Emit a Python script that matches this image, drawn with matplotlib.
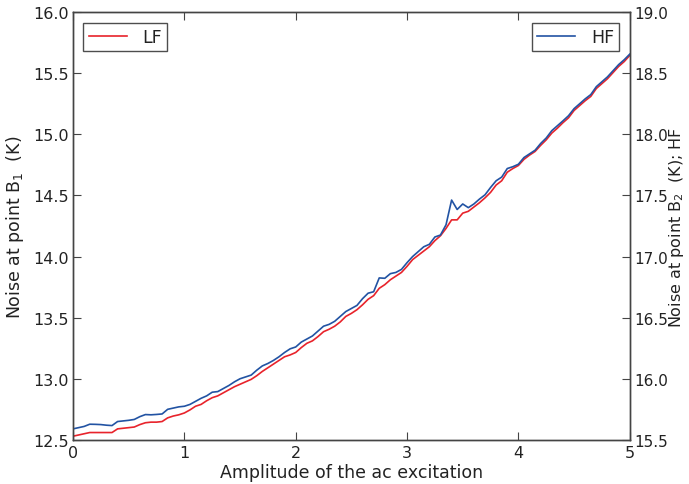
import matplotlib
matplotlib.use("Agg")
import matplotlib.pyplot as plt

plt.rcParams['font.family'] = ['DejaVu Sans']
plt.rcParams['mathtext.default'] = 'regular'

# amplitude of the ac excitation
amplitude = [i * 0.05 for i in range(101)]

# noise at point B1, low frequency (left axis)
lf_noise = [
    12.53, 12.54, 12.55, 12.56, 12.56, 12.56, 12.56, 12.56, 12.59, 12.595,
    12.60, 12.605, 12.625, 12.64, 12.645, 12.645, 12.65, 12.68, 12.695, 12.705,
    12.72, 12.745, 12.775, 12.79, 12.82, 12.845, 12.86, 12.885, 12.91, 12.935,
    12.955, 12.975, 12.995, 13.025, 13.06, 13.09, 13.12, 13.15, 13.18, 13.195,
    13.215, 13.255, 13.29, 13.31, 13.345, 13.385, 13.405, 13.43, 13.465, 13.51,
    13.535, 13.565, 13.605, 13.65, 13.68, 13.74, 13.77, 13.81, 13.84, 13.87,
    13.92, 13.975, 14.01, 14.045, 14.08, 14.13, 14.17, 14.23, 14.30, 14.30,
    14.355, 14.37, 14.405, 14.44, 14.48, 14.525, 14.585, 14.62, 14.69, 14.72,
    14.745, 14.795, 14.83, 14.86, 14.91, 14.955, 15.01, 15.05, 15.095, 15.135,
    15.195, 15.235, 15.275, 15.31, 15.375, 15.415, 15.455, 15.505, 15.555, 15.595,
    15.645,
]

# noise at point B2, high frequency (right axis)
hf_noise = [
    15.59, 15.60, 15.61, 15.628, 15.627, 15.625, 15.62, 15.617, 15.65, 15.655,
    15.66, 15.667, 15.69, 15.707, 15.705, 15.708, 15.712, 15.75, 15.76, 15.77,
    15.775, 15.79, 15.815, 15.84, 15.86, 15.89, 15.895, 15.92, 15.945, 15.975,
    16.00, 16.015, 16.03, 16.07, 16.105, 16.125, 16.15, 16.18, 16.215, 16.245,
    16.26, 16.30, 16.325, 16.35, 16.39, 16.43, 16.445, 16.47, 16.51, 16.55,
    16.575, 16.60, 16.655, 16.70, 16.712, 16.825, 16.822, 16.86, 16.87, 16.895,
    16.95, 17.00, 17.04, 17.08, 17.10, 17.16, 17.176, 17.26, 17.462, 17.385,
    17.43, 17.40, 17.43, 17.47, 17.505, 17.565, 17.62, 17.65, 17.72, 17.735,
    17.755, 17.81, 17.84, 17.87, 17.925, 17.97, 18.03, 18.07, 18.11, 18.152,
    18.21, 18.25, 18.29, 18.325, 18.39, 18.43, 18.47, 18.52, 18.57, 18.61,
    18.656,
]

text_color = '#222222'
spine_color = '#444444'

fig = plt.figure(figsize=(6.89, 4.85), dpi=100)
ax = fig.add_axes([0.106, 0.091, 0.808, 0.882])
ax2 = ax.twinx()

ax.plot(amplitude, lf_noise, color='#e8232b', lw=1.2, label='LF')
ax2.plot(amplitude, hf_noise, color='#2253a3', lw=1.2, label='HF')

ax.set_xlim(0, 5)
ax.set_ylim(12.5, 16.0)
ax2.set_ylim(15.5, 19.0)
ax.set_xticks([0, 1, 2, 3, 4, 5])
ax.set_yticks([12.5, 13.0, 13.5, 14.0, 14.5, 15.0, 15.5, 16.0])
ax2.set_yticks([15.5, 16.0, 16.5, 17.0, 17.5, 18.0, 18.5, 19.0])
ax.set_yticklabels(['%.1f' % v for v in ax.get_yticks()])
ax2.set_yticklabels(['%.1f' % v for v in ax2.get_yticks()])

ax.tick_params(axis='x', direction='in', top=True, length=6, labelsize=11.5,
               colors=spine_color, labelcolor=text_color, pad=4)
ax.tick_params(axis='y', direction='in', length=6, labelsize=11.5,
               colors=spine_color, labelcolor=text_color, pad=3)
ax2.tick_params(axis='y', direction='in', length=6, labelsize=11,
                colors=spine_color, labelcolor=text_color, pad=3)

for a in (ax, ax2):
    for s in a.spines.values():
        s.set_color(spine_color)
        s.set_linewidth(1.0)

ax.set_xlabel('Amplitude of the ac excitation', fontsize=12.5, color=text_color,
              labelpad=2)
ax.set_ylabel('Noise at point B$_1$  (K)', fontsize=12.5, color=text_color,
              labelpad=5)
ax2.set_ylabel('Noise at point B$_2$  (K); HF', fontsize=11.5, color=text_color)
ax2.yaxis.set_label_coords(1.067, 0.5)

leg1 = ax.legend(loc='upper left', fancybox=False, fontsize=12.5,
                 edgecolor='#222222', handlelength=2.2, borderaxespad=0.6,
                 borderpad=0.3, handletextpad=0.9)
leg2 = ax2.legend(loc='upper right', fancybox=False, fontsize=12.5,
                  edgecolor='#222222', handlelength=2.2, borderaxespad=0.6,
                  borderpad=0.3, handletextpad=0.9)
for leg in (leg1, leg2):
    leg.get_frame().set_linewidth(1.0)
    for t in leg.get_texts():
        t.set_color(text_color)

fig.savefig('out.png', dpi=100)
